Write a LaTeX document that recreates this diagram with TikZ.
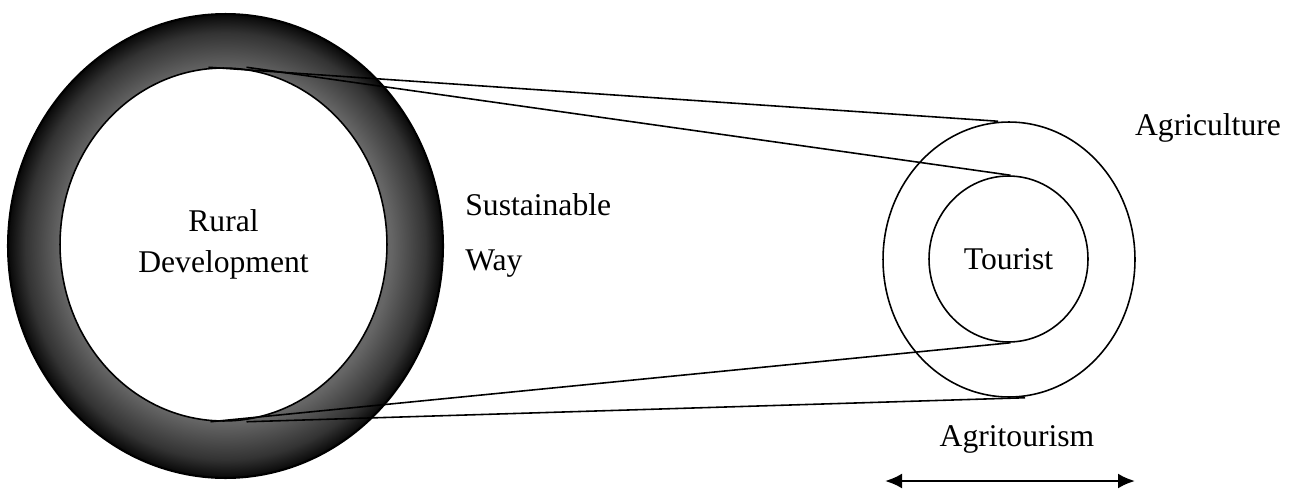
\documentclass[tikz,border=0pt]{standalone}
\usepackage{fontspec}
\setmainfont{Liberation Serif}
\usepackage{tikz}
\usetikzlibrary{positioning,arrows.meta,calc,shapes.geometric}

\pgfdeclareradialshading{ringshade}{\pgfpointorigin}{color(0bp)=(black!58); color(19bp)=(black!60); color(23bp)=(black!80); color(25bp)=(black!97); color(50bp)=(black)}

\begin{document}
\begin{tikzpicture}[
  x=0.02cm, y=-0.02cm,
  font=\fontsize{18}{23}\selectfont,
  outerring/.style={ellipse, draw, line width=1.2pt, shade, shading=ringshade, inner sep=0pt},
  hole/.style={ellipse, draw, line width=0.9pt, fill=white, align=center, inner sep=0pt},
  band/.style={ellipse, draw, line width=0.9pt, inner sep=0pt, align=center},
  belt/.style={line width=0.9pt},
  lbl/.style={inner sep=0pt},
]
\useasboundingbox (0,0) rectangle (1295,490);

% ---------- LEFT: rural development ----------
\node[outerring, minimum width=8.7cm, minimum height=9.28cm] (rdout) at (225.5,246) {};
\node[hole, minimum width=6.54cm, minimum height=7.06cm] (rdin) at (223.5,244.5) {Rural\\Development};

% ---------- RIGHT: agriculture / tourist ----------
\node[band, minimum width=5.04cm, minimum height=5.5cm] (agri) at (1009,259.5) {};
\node[band, minimum width=3.18cm, minimum height=3.32cm] (tour) at (1008.5,259) {Tourist};

% ---------- belts between the circles ----------
\coordinate (rtopa) at ($(rdin.north)+(-15,0)$);
\coordinate (rtopb) at ($(rdin.north)+(23,0)$);
\coordinate (rbota) at ($(rdin.south)+(-13,0)$);
\coordinate (rbotb) at ($(rdin.south)+(23,0)$);
\coordinate (atop) at ($(agri.north)+(-11,0)$);
\coordinate (abot) at ($(agri.south)+(16,0)$);
\coordinate (ttop) at ($(tour.north)+(2,0)$);
\coordinate (tbot) at ($(tour.south)+(2,0)$);
\draw[belt] (rtopa) -- (atop);
\draw[belt] (rtopb) -- (ttop);
\draw[belt] (rbota) -- (tbot);
\draw[belt] (rbotb) -- (abot);

% ---------- labels ----------
\node[lbl, anchor=base west] (sust) at (465,215) {Sustainable};
\node[lbl, anchor=base west] (way) at (465,270) {Way};
\node[lbl, anchor=base] (agrilbl) at (1208,135) {Agriculture};
\node[lbl, anchor=base] (agtour) at (1017,446) {Agritourism};

% ---------- span arrow ----------
\coordinate (spanl) at (885,481);
\coordinate (spanr) at (1135,481);
\draw[line width=1.4pt, {Latex[length=3.4mm,width=3mm]}-{Latex[length=3.4mm,width=3mm]}] (spanl) -- (spanr);
\end{tikzpicture}
\end{document}
